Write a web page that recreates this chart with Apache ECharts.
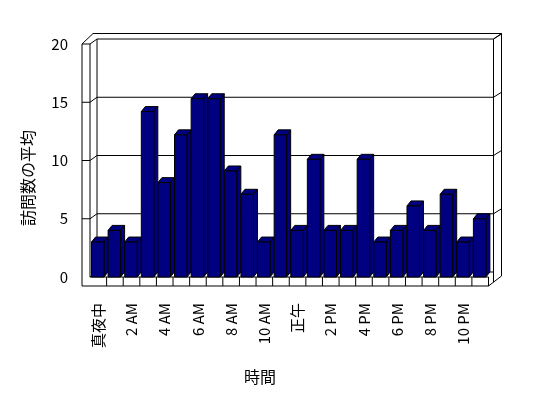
<!DOCTYPE html>
<html>
<head>
<meta charset="utf-8">
<script src="https://cdn.jsdelivr.net/npm/echarts@6/dist/echarts.min.js"></script>
<style>
  html, body { margin: 0; padding: 0; background: #fff; }
  #chart { width: 548px; height: 398px; }
</style>
</head>
<body>
<div id="chart"></div>
<script>
// 時間ごとの訪問数の平均
const hours = ['真夜中', '1 AM', '2 AM', '3 AM', '4 AM', '5 AM', '6 AM', '7 AM', '8 AM', '9 AM', '10 AM', '11 AM',
  '正午', '1 PM', '2 PM', '3 PM', '4 PM', '5 PM', '6 PM', '7 PM', '8 PM', '9 PM', '10 PM', '11 PM']
const visits = [3, 4, 3, 14.2, 8.1, 12.2, 15.3, 15.3, 9.1, 7.1, 3, 12.2,
  4, 10.1, 4, 4, 10.1, 3, 4, 6.1, 4, 7.1, 3, 5]
const yTicks = [0, 5, 10, 15, 20]

const font = '"Noto Sans CJK JP", "Noto Sans", sans-serif'
const navy = '#000080'
const line = { stroke: '#000', lineWidth: 1, fill: null }

// 3D の棒
function renderBar(params, api) {
  const i = api.value(0)
  const top = api.coord([i, api.value(1)])
  const base = api.coord([i, 0])
  const bw = api.size([1, 0])[0]
  const L = top[0] - bw / 2 + 1.5
  const R = L + 12.5
  const T = top[1]
  const B = base[1]
  const dx = 4, dy = 5
  const st = { fill: navy, stroke: '#000', lineWidth: 1 }
  return {
    type: 'group',
    children: [
      { type: 'polygon', shape: { points: [[R, T], [R + dx, T - dy], [R + dx, B - dy], [R, B]] }, style: st },
      { type: 'polygon', shape: { points: [[L, T], [L + dx, T - dy], [R + dx, T - dy], [R, T]] }, style: st },
      { type: 'rect', shape: { x: L, y: T, width: R - L, height: B - T }, style: st }
    ]
  }
}

// 壁と床
function renderFrame(params, api) {
  const bw = api.size([1, 0])[0]
  const x0 = api.coord([0, 0])[0] - bw / 2
  const xR = api.coord([hours.length - 1, 0])[0] + bw / 2
  const y0 = api.coord([0, 0])[1]
  const y20 = api.coord([0, 20])[1]
  const xOut = x0 - 8
  const xb = x0 + 7
  const xbR = xR + 5
  const xo = xR + 13
  const kids = []
  const seg = (a, b) => kids.push({ type: 'polyline', shape: { points: [a, b] }, style: line })

  yTicks.forEach(v => {
    const y = api.coord([0, v])[1]
    seg([xb, y - 5], [xbR, y - 5])
    seg([x0, y], [xb, y - 5])
    if (v > 0) {
      seg([xOut, y], [x0, y])
      seg([xbR, y - 5], [xo, y - 10])
    }
  })
  // 左の壁
  seg([xOut, y20], [xOut, y0 + 9])
  seg([x0, y20], [x0, y0])
  seg([xb, y20 - 5], [xb, y0 - 5])
  seg([xOut, y20], [xOut + 11, y20 - 10.5])
  // 上と右
  seg([xOut + 11, y20 - 10.5], [xo, y20 - 10.5])
  seg([xbR, y20 - 5], [xo, y20 - 10.5])
  seg([xbR, y20 - 5], [xbR, y0 + 5])
  seg([xo, y20 - 10.5], [xo, y0 - 1])
  // 床
  seg([xOut, y0 + 9], [xR, y0 + 9])
  seg([x0, y0], [xR, y0])
  seg([xR, y0 + 9], [xo, y0 - 1])
  for (let k = 1; k <= hours.length; k++) {
    const x = x0 + k * bw
    seg([x, y0], [x, y0 + 9])
  }
  return { type: 'group', children: kids }
}

const chart = echarts.init(document.getElementById('chart'))
chart.setOption({
  animation: false,
  grid: { left: 90, right: 59.5, top: 44, bottom: 121 },
  xAxis: {
    type: 'category',
    data: hours,
    axisLine: { show: false },
    axisTick: { show: false },
    axisLabel: {
      interval: 1, rotate: 90, margin: 26, padding: [6, 0, 0, 0],
      color: '#000', fontFamily: font, fontSize: 15
    }
  },
  yAxis: {
    type: 'value', min: 0, max: 20, interval: 5,
    axisLine: { show: false },
    axisTick: { show: false },
    splitLine: { show: false },
    axisLabel: { margin: 22, color: '#000', fontFamily: font, fontSize: 15 }
  },
  graphic: [
    { type: 'text', x: 28, y: 178, rotation: Math.PI / 2,
      style: { text: '訪問数の平均', font: '16px ' + font, fill: '#000', align: 'center', verticalAlign: 'middle' } },
    { type: 'text', x: 260, y: 377,
      style: { text: '時間', font: '16px ' + font, fill: '#000', align: 'center', verticalAlign: 'middle' } }
  ],
  series: [
    { type: 'custom', renderItem: renderFrame, data: [[0, 0]], clip: false, z: 1, silent: true },
    { type: 'custom', renderItem: renderBar, data: visits.map((v, i) => [i, v]), clip: false, z: 2 }
  ]
})
</script>
</body>
</html>
